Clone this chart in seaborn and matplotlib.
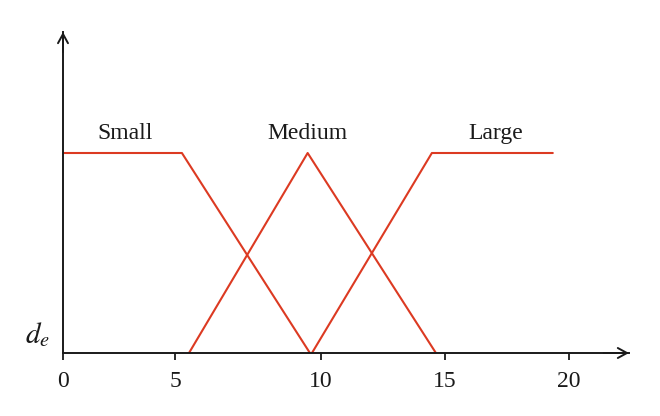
import matplotlib
matplotlib.use("Agg")
import matplotlib.pyplot as plt
import seaborn as sns
import pandas as pd

# membership functions (x in units of d_e, y = membership degree)
small_x = [0, 4.70, 9.76]
small_y = [1, 1, 0]
medium_x = [4.98, 9.67, 14.74]
medium_y = [0, 1, 0]
large_x = [9.84, 14.58, 19.36]
large_y = [0, 1, 1]

labels = ["Small", "Medium", "Large"]
label_x = [2.45, 9.67, 17.1]

tick_pos = [0, 4.43, 10.18, 15.1, 20]
tick_labels = ["0", "5", "10", "15", "20"]

red = "#dc3a22"

sns.set_theme(style="white")
plt.rcParams["font.family"] = ["Liberation Serif", "DejaVu Serif"]
plt.rcParams["mathtext.fontset"] = "stix"

df = pd.concat([
    pd.DataFrame({"x": small_x, "y": small_y, "set": "Small"}),
    pd.DataFrame({"x": medium_x, "y": medium_y, "set": "Medium"}),
    pd.DataFrame({"x": large_x, "y": large_y, "set": "Large"}),
])

W, H = 660, 416
fig = plt.figure(figsize=(6.6, 4.16), dpi=100)
x0, y0 = 63, 353
px_x = 25.3
px_y = 200
x_end, y_top = 629, 32
ax = fig.add_axes([x0 / W, (H - y0) / H, (x_end - x0) / W, (y0 - y_top) / H])
xmax = (x_end - x0) / px_x
ymax = (y0 - y_top) / px_y

sns.lineplot(data=df, x="x", y="y", units="set", estimator=None, sort=False,
             color=red, lw=1.5, ax=ax, legend=False)

ax.set_xlim(0, xmax)
ax.set_ylim(0, ymax)
for s in ["top", "right"]:
    ax.spines[s].set_visible(False)
for s in ["left", "bottom"]:
    ax.spines[s].set_color("#1a1a1a")
    ax.spines[s].set_linewidth(1.4)

# arrow heads
arrow = dict(arrowstyle="->,head_length=0.55,head_width=0.3", lw=1.4, color="#1a1a1a",
             shrinkA=0, shrinkB=0)
ax.annotate("", xy=(xmax, 0), xytext=(xmax - 1, 0), arrowprops=arrow, annotation_clip=False)
ax.annotate("", xy=(0, ymax), xytext=(0, ymax - 0.1), arrowprops=arrow, annotation_clip=False)

ax.set_xticks(tick_pos)
ax.set_xticklabels(tick_labels, fontsize=17, color="#1a1a1a")
ax.set_yticks([])
ax.tick_params(axis="x", direction="out", length=5, width=1.3, color="#1a1a1a", pad=8, bottom=True)
ax.set_xlabel("")
ax.set_ylabel("")

for lab, lx in zip(labels, label_x):
    ax.text(lx, 1.045, lab, ha="center", va="bottom", fontsize=17, color="#1a1a1a")

ax.text(-0.5, 0.02, r"$d_e$", ha="right", va="bottom", fontsize=21, color="#1a1a1a",
        clip_on=False)

fig.savefig("out.png", dpi=100)
